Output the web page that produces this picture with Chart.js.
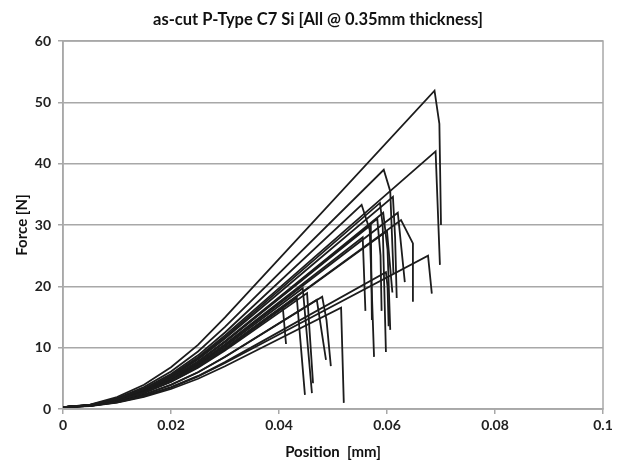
<!doctype html>
<html lang="en">
<head>
    <meta charset="utf-8">
    <title>as-cut P-Type C7 Si</title>
    <script src="https://cdn.jsdelivr.net/npm/chart.js"></script>
    <style>
        body { margin: 0; background: #fff; }
        #wrap { width: 629px; height: 461px; }
    </style>
</head>
<body>
    <div id="wrap"><canvas id="forceChart" width="629" height="461"></canvas></div>
    <script type="text/javascript">
        // Force vs. position, one array of [position mm, force N] per wafer
        var s01 = [[0, 0.3], [0.005, 0.71], [0.01, 1.93], [0.015, 3.96], [0.02, 6.8], [0.025, 10.46], [0.03, 14.93], [0.0688, 51.9], [0.0697, 46.5], [0.0700, 30.0]];
        var s02 = [[0, 0.3], [0.005, 0.63], [0.01, 1.60], [0.015, 3.23], [0.02, 5.50], [0.025, 8.43], [0.03, 12.0], [0.0690, 42.0], [0.0698, 23.5]];
        var s03 = [[0, 0.3], [0.005, 0.66], [0.01, 1.75], [0.015, 3.57], [0.02, 6.11], [0.025, 9.38], [0.03, 13.38], [0.0594, 39.0], [0.0606, 35.5], [0.0612, 22.0]];
        var s04 = [[0, 0.3], [0.005, 0.64], [0.01, 1.65], [0.015, 3.34], [0.02, 5.71], [0.025, 8.75], [0.03, 12.47], [0.0553, 33.3], [0.0568, 29.2], [0.0576, 8.5]];
        var s05 = [[0, 0.3], [0.005, 0.62], [0.01, 1.57], [0.015, 3.16], [0.02, 5.38], [0.025, 8.24], [0.03, 11.73], [0.0587, 33.6], [0.0592, 30.0], [0.0598, 9.3]];
        var s06 = [[0, 0.3], [0.005, 0.61], [0.01, 1.54], [0.015, 3.10], [0.02, 5.27], [0.025, 8.07], [0.03, 11.49], [0.0611, 34.6], [0.0615, 28.0], [0.0618, 18.1]];
        var s07 = [[0, 0.3], [0.005, 0.57], [0.01, 1.37], [0.015, 2.70], [0.02, 4.57], [0.025, 6.98], [0.03, 9.92], [0.0626, 30.8], [0.0648, 27.0], [0.0648, 17.5]];
        var s08 = [[0, 0.3], [0.005, 0.60], [0.01, 1.49], [0.015, 2.99], [0.02, 5.07], [0.025, 7.76], [0.03, 11.04], [0.0593, 32.0], [0.0601, 26.0], [0.0606, 12.9]];
        var s09 = [[0, 0.3], [0.005, 0.59], [0.01, 1.48], [0.015, 2.95], [0.02, 5.01], [0.025, 7.66], [0.03, 10.91], [0.0570, 30.0], [0.0572, 14.5]];
        var s10 = [[0, 0.3], [0.005, 0.57], [0.01, 1.36], [0.015, 2.69], [0.02, 4.55], [0.025, 6.95], [0.03, 9.87], [0.0600, 29.0], [0.0605, 24.0], [0.0610, 19.0]];
        var s11 = [[0, 0.3], [0.005, 0.60], [0.01, 1.49], [0.015, 2.97], [0.02, 5.04], [0.025, 7.71], [0.03, 10.97], [0.0582, 31.0], [0.0588, 25.0], [0.0590, 16.0]];
        var s12 = [[0, 0.3], [0.005, 0.59], [0.01, 1.44], [0.015, 2.87], [0.02, 4.86], [0.025, 7.43], [0.03, 10.56], [0.0555, 28.0], [0.0560, 16.0]];
        var s13 = [[0, 0.3], [0.005, 0.50], [0.01, 1.10], [0.015, 2.10], [0.02, 3.49], [0.025, 5.29], [0.03, 7.49], [0.0676, 25.0], [0.0683, 18.8]];
        var s14 = [[0, 0.3], [0.005, 0.50], [0.01, 1.12], [0.015, 2.13], [0.02, 3.56], [0.025, 5.39], [0.03, 7.64], [0.0598, 22.3], [0.0601, 20.0], [0.0603, 13.5]];
        var s15 = [[0, 0.3], [0.005, 0.58], [0.01, 1.40], [0.015, 2.78], [0.02, 4.70], [0.025, 7.18], [0.03, 10.2], [0.0444, 19.7], [0.0461, 2.6]];
        var s16 = [[0, 0.3], [0.005, 0.56], [0.01, 1.35], [0.015, 2.66], [0.02, 4.49], [0.025, 6.85], [0.03, 9.74], [0.0433, 18.1], [0.0448, 2.3]];
        var s17 = [[0, 0.3], [0.005, 0.56], [0.01, 1.36], [0.015, 2.68], [0.02, 4.53], [0.025, 6.90], [0.03, 9.81], [0.0407, 16.6], [0.0413, 10.6]];
        var s18 = [[0, 0.3], [0.005, 0.56], [0.01, 1.33], [0.015, 2.61], [0.02, 4.41], [0.025, 6.72], [0.03, 9.54], [0.0452, 18.9], [0.0463, 4.2]];
        var s19 = [[0, 0.3], [0.005, 0.53], [0.01, 1.21], [0.015, 2.35], [0.02, 3.95], [0.025, 5.98], [0.03, 8.51], [0.0470, 17.8], [0.0487, 8.0]];
        var s20 = [[0, 0.3], [0.005, 0.53], [0.01, 1.21], [0.015, 2.34], [0.02, 3.93], [0.025, 5.98], [0.03, 8.48], [0.0480, 18.3], [0.0488, 14.5], [0.0496, 7.0]];
        var s21 = [[0, 0.3], [0.005, 0.49], [0.01, 1.04], [0.015, 1.97], [0.02, 3.26], [0.025, 4.93], [0.03, 6.96], [0.0515, 16.5], [0.0520, 1.0]];
        var s22 = [[0, 0.3], [0.005, 0.58], [0.01, 1.42], [0.015, 2.83], [0.02, 4.79], [0.025, 7.32], [0.03, 10.41], [0.0620, 32.0], [0.0633, 20.7]];

        var wafers = [s01, s02, s03, s04, s05, s06, s07, s08, s09, s10, s11,
                      s12, s13, s14, s15, s16, s17, s18, s19, s20, s21, s22];

        var posTicks = [0, 0.02, 0.04, 0.06, 0.08, 0.1];
        var forceTicks = [0, 10, 20, 30, 40, 50, 60];

        var chartTitle = 'as-cut P-Type C7 Si [All @ 0.35mm thickness]';
        var fontName = 'Lato, "Open Sans", sans-serif';

        // grey frame around the plot, plus the title centred over the whole canvas
        var frame = {
            id: 'frame',
            beforeDatasetsDraw: function (chart) {
                var a = chart.chartArea, c = chart.ctx;
                c.save();
                c.strokeStyle = '#a8a8a8';
                c.lineWidth = 1.5;
                c.strokeRect(a.left, a.top, a.right - a.left, a.bottom - a.top);
                c.restore();
            },
            afterDraw: function (chart) {
                var c = chart.ctx;
                c.save();
                c.fillStyle = '#111';
                c.font = 'bold 16.5px ' + fontName;
                c.textAlign = 'center';
                c.textBaseline = 'middle';
                c.fillText(chartTitle, 318, 20);
                c.restore();
            }
        };

        var ctx = document.getElementById('forceChart').getContext('2d');
        var forceChart = new Chart(ctx, {
            type: 'scatter',
            data: {
                datasets: wafers.map(function (w, i) {
                    return {
                        label: 'wafer ' + (i + 1),
                        data: w.map(function (p) { return { x: p[0], y: p[1] }; }),
                        showLine: true,
                        borderColor: '#1c1c1c',
                        borderWidth: 1.8,
                        pointRadius: 0,
                        tension: 0
                    };
                })
            },
            options: {
                responsive: false,
                animation: false,
                devicePixelRatio: 1,
                layout: { padding: { left: 0, right: 26, top: 41, bottom: 0 } },
                plugins: {
                    legend: { display: false },
                    tooltip: { enabled: false },
                    title: { display: false }
                },
                scales: {
                    x: {
                        type: 'linear',
                        min: 0,
                        max: 0.1,
                        afterBuildTicks: function (s) { s.ticks = posTicks.map(function (v) { return { value: v }; }); },
                        afterFit: function (s) { s.height = 52; },
                        grid: { drawOnChartArea: false, drawTicks: true, tickLength: 5, color: '#a8a8a8', lineWidth: 1.5 },
                        border: { color: '#a8a8a8', width: 1.5 },
                        ticks: {
                            color: '#222',
                            padding: 3,
                            font: { family: fontName, size: 14, weight: 'bold' },
                            callback: function (v) { return String(Number(v.toFixed(2))); }
                        },
                        title: {
                            display: true,
                            text: 'Position  [mm]',
                            color: '#111',
                            font: { family: fontName, size: 15, weight: 'bold' },
                            padding: { top: 0, bottom: 0 }
                        }
                    },
                    y: {
                        min: 0,
                        max: 60,
                        afterBuildTicks: function (s) { s.ticks = forceTicks.map(function (v) { return { value: v }; }); },
                        afterFit: function (s) { s.width = 63; },
                        grid: { color: '#a8a8a8', lineWidth: 1.5, tickLength: 5 },
                        border: { color: '#a8a8a8', width: 1.5 },
                        ticks: {
                            color: '#222',
                            padding: 7,
                            font: { family: fontName, size: 14, weight: 'bold' }
                        },
                        title: {
                            display: true,
                            text: 'Force [N]',
                            color: '#111',
                            font: { family: fontName, size: 15, weight: 'bold' },
                            padding: { top: 13, bottom: 0 }
                        }
                    }
                }
            },
            plugins: [frame]
        });
    </script>
</body>
</html>
